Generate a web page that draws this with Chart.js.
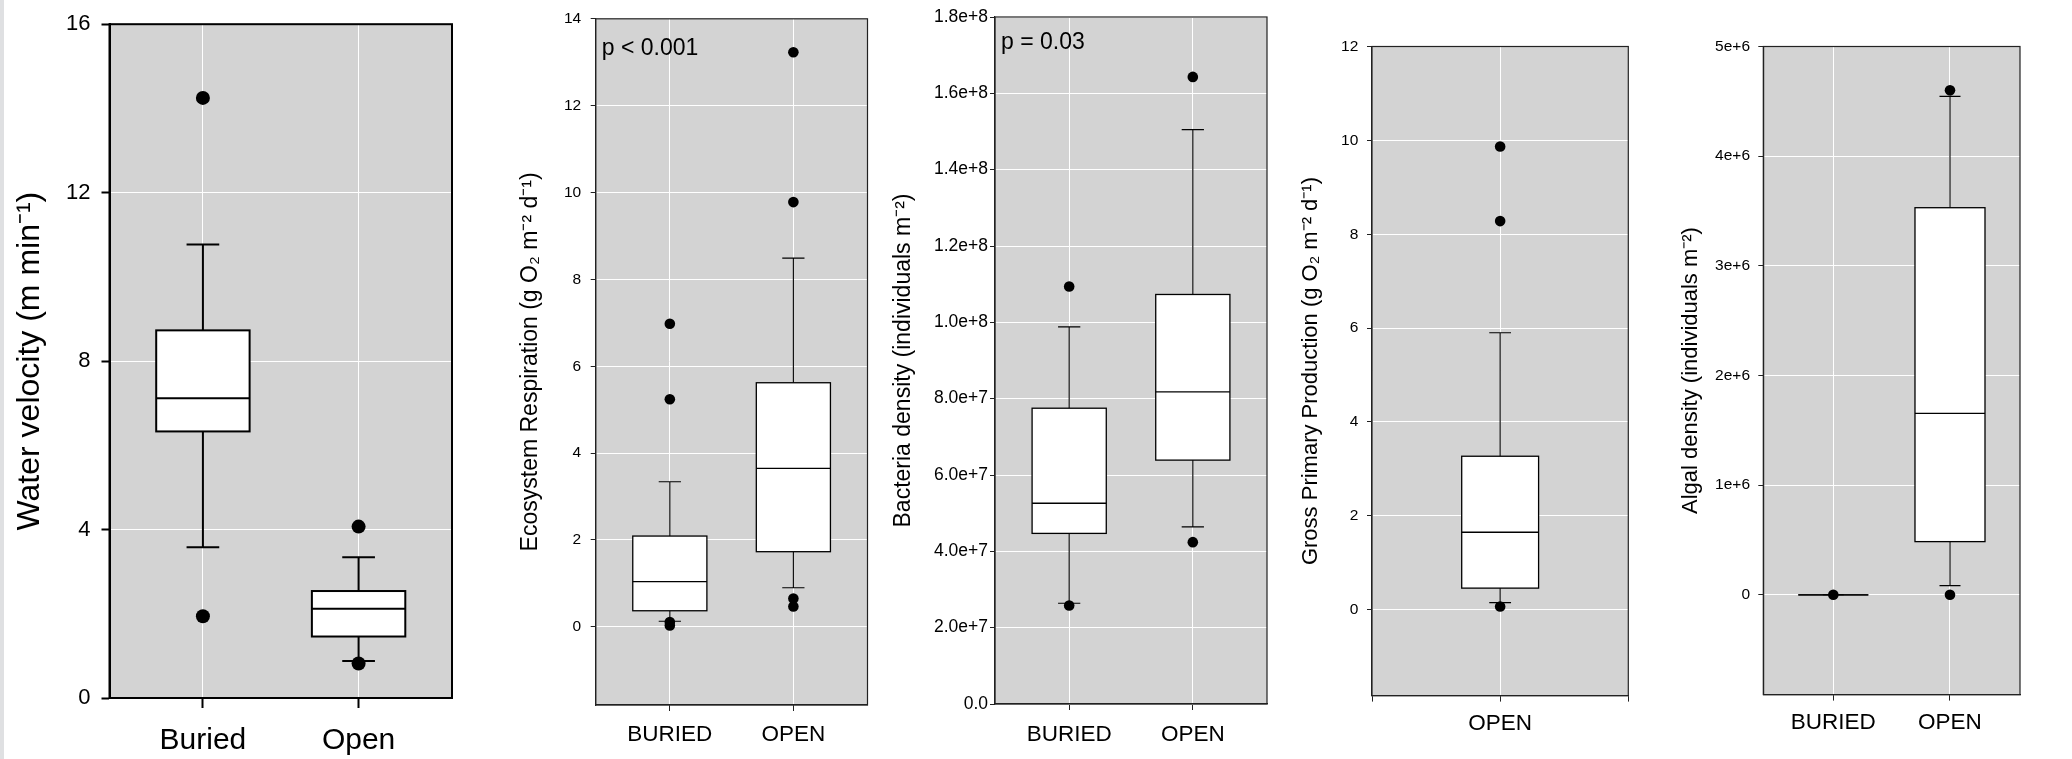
<!DOCTYPE html>
<html>
<head>
<meta charset="utf-8">
<script src="https://cdn.jsdelivr.net/npm/chart.js@4.4.1/dist/chart.umd.min.js"></script>
<style>
  html, body { margin: 0; padding: 0; background: #fff; }
  #page { position: relative; width: 2072px; height: 759px; overflow: hidden; }
  #strip { position: absolute; left: 0; top: 0; width: 4px; height: 759px; background: #dfe0e2; }
  canvas { position: absolute; top: 0; }
</style>
</head>
<body>
<div id="page">
  <div id="strip"></div>
  <canvas id="velocity" width="470" height="759" style="left:0px"></canvas>
  <canvas id="respiration" width="410" height="759" style="left:470px"></canvas>
  <canvas id="bacteria" width="410" height="759" style="left:880px"></canvas>
  <canvas id="gpp" width="370" height="759" style="left:1290px"></canvas>
  <canvas id="algae" width="412" height="759" style="left:1660px"></canvas>
</div>
<script>
// DADOS - velocidade da água
const velCategories = ["Buried", "Open"];
const velTicks = [0, 4, 8, 12, 16];
const velQ1 = [6.33, 1.46];
const velMedian = [7.12, 2.12];
const velQ3 = [8.73, 2.54];
const velLow = [3.58, 0.88];
const velHigh = [10.77, 3.34];
const velOutliers = [[14.25, 1.94], [4.07, 0.82]];

// DADOS - respiração
const erCategories = ["BURIED", "OPEN"];
const erTicks = [0, 2, 4, 6, 8, 10, 12, 14];
const erQ1 = [0.37, 1.73];
const erMedian = [1.04, 3.65];
const erQ3 = [2.09, 5.62];
const erLow = [0.13, 0.9];
const erHigh = [3.34, 8.49];
const erOutliers = [[6.98, 5.24, 0.11, 0.03], [13.23, 9.78, 0.65, 0.47]];
const erNote = "p < 0.001";

// DADOS - bactérias
const bacCategories = ["BURIED", "OPEN"];
const bacTicks = [0, 2e7, 4e7, 6e7, 8e7, 1e8, 1.2e8, 1.4e8, 1.6e8, 1.8e8];
const bacTickLabels = ["0.0", "2.0e+7", "4.0e+7", "6.0e+7", "8.0e+7", "1.0e+8", "1.2e+8", "1.4e+8", "1.6e+8", "1.8e+8"];
const bacQ1 = [4.47e7, 6.39e7];
const bacMedian = [5.26e7, 8.18e7];
const bacQ3 = [7.75e7, 1.073e8];
const bacLow = [2.64e7, 4.64e7];
const bacHigh = [9.88e7, 1.505e8];
const bacOutliers = [[1.094e8, 2.58e7], [1.643e8, 4.24e7]];
const bacNote = "p = 0.03";

// DADOS - produção primária
const gppCategories = ["OPEN"];
const gppTicks = [0, 2, 4, 6, 8, 10, 12];
const gppQ1 = [0.46];
const gppMedian = [1.65];
const gppQ3 = [3.27];
const gppLow = [0.15];
const gppHigh = [5.9];
const gppOutliers = [[9.87, 8.28, 0.07]];

// DADOS - algas
const algCategories = ["BURIED", "OPEN"];
const algTicks = [0, 1e6, 2e6, 3e6, 4e6, 5e6];
const algTickLabels = ["0", "1e+6", "2e+6", "3e+6", "4e+6", "5e+6"];
const algQ1 = [0, 4.85e5];
const algMedian = [0, 1.655e6];
const algQ3 = [0, 3.53e6];
const algLow = [0, 8.4e4];
const algHigh = [0, 4.545e6];
const algOutliers = [[0], [4.6e6, 0]];

Chart.defaults.font.family = "'Liberation Sans', Arial, sans-serif";
Chart.defaults.color = "#000";

// FUNDO, CAIXAS, BIGODES E MOLDURA
function boxPlugin(d, look) {
    return {
        id: "boxes",
        beforeDraw(chart) {
            const { ctx, chartArea: a } = chart;
            ctx.save();
            ctx.fillStyle = "#d3d3d3";
            ctx.fillRect(a.left, a.top, a.width, a.height);
            ctx.restore();
        },
        beforeDatasetsDraw(chart) {
            const { ctx, scales: { x, y } } = chart;
            const half = (x.getPixelForValue(look.boxWidth) - x.getPixelForValue(0)) / 2;
            const cap = (x.getPixelForValue(look.capWidth) - x.getPixelForValue(0)) / 2;
            ctx.save();
            ctx.strokeStyle = "#000";
            d.q1.forEach((v, i) => {
                const cx = x.getPixelForValue(i + 1);
                const top = y.getPixelForValue(d.q3[i]);
                const bottom = y.getPixelForValue(v);
                const hi = y.getPixelForValue(d.high[i]);
                const lo = y.getPixelForValue(d.low[i]);
                const med = y.getPixelForValue(d.median[i]);
                ctx.lineWidth = look.whisker;
                ctx.beginPath();
                ctx.moveTo(cx, top); ctx.lineTo(cx, hi);
                ctx.moveTo(cx - cap, hi); ctx.lineTo(cx + cap, hi);
                ctx.moveTo(cx, bottom); ctx.lineTo(cx, lo);
                ctx.moveTo(cx - cap, lo); ctx.lineTo(cx + cap, lo);
                ctx.stroke();
                ctx.fillStyle = "#fff";
                ctx.fillRect(cx - half, top, half * 2, bottom - top);
                ctx.lineWidth = look.box;
                ctx.strokeRect(cx - half, top, half * 2, bottom - top);
                ctx.beginPath();
                ctx.moveTo(cx - half, med); ctx.lineTo(cx + half, med);
                ctx.stroke();
            });
            ctx.restore();
        },
        afterDraw(chart) {
            const { ctx, chartArea: a } = chart;
            ctx.save();
            ctx.strokeStyle = look.frameColor;
            ctx.lineWidth = look.frame;
            ctx.strokeRect(a.left, a.top, a.width, a.height);
            if (d.note) {
                ctx.fillStyle = "#000";
                ctx.font = "23px 'Liberation Sans', Arial, sans-serif";
                ctx.textBaseline = "alphabetic";
                ctx.fillText(d.note, a.left + 6, a.top + look.noteY);
            }
            ctx.restore();
        },
    };
}

// CONSTRUIR PAINEL
function drawPanel(id, d, look) {
    const points = d.outliers.flatMap((vals, i) => vals.map((v) => ({ x: i + 1, y: v })));
    new Chart(document.getElementById(id), {
        type: "scatter",
        data: {
            datasets: [
                {
                    data: points,
                    pointRadius: look.dot,
                    pointHoverRadius: look.dot,
                    backgroundColor: "#000",
                    borderWidth: 0,
                },
            ],
        },
        options: {
            responsive: false,
            animation: false,
            devicePixelRatio: 1,
            events: [],
            layout: {
                autoPadding: false,
                padding: { top: look.top, right: look.right, bottom: 0, left: 0 },
            },
            plugins: {
                legend: { display: false },
                tooltip: { enabled: false },
            },
            scales: {
                x: {
                    type: "linear",
                    min: look.xMin,
                    max: look.xMax,
                    afterBuildTicks: (axis) => {
                        axis.ticks = look.xTicks.map((v) => ({ value: v }));
                    },
                    afterFit: (axis) => {
                        axis.height = look.xHeight;
                    },
                    grid: {
                        color: "#fff",
                        lineWidth: 1,
                        tickColor: look.frameColor,
                        tickLength: look.xTickLen,
                        tickWidth: look.tickWidth,
                    },
                    border: { color: look.frameColor, width: look.frame },
                    ticks: {
                        callback: (v) => d.categories[v - 1] || "",
                        font: { size: look.xFont },
                        padding: look.xPad,
                        maxRotation: 0,
                        autoSkip: false,
                        color: "#000",
                    },
                },
                y: {
                    type: "linear",
                    min: look.yMin,
                    max: look.yMax,
                    afterBuildTicks: (axis) => {
                        axis.ticks = d.ticks.map((v) => ({ value: v }));
                    },
                    afterFit: (axis) => {
                        axis.width = look.yWidth;
                    },
                    grid: {
                        color: "#fff",
                        lineWidth: 1,
                        tickColor: look.frameColor,
                        tickLength: look.yTickLen,
                        tickWidth: look.tickWidth,
                    },
                    border: { color: look.frameColor, width: look.frame },
                    ticks: {
                        callback: (v, i) => d.tickLabels[i],
                        font: { size: look.yFont },
                        padding: look.yPad,
                        autoSkip: false,
                        color: "#000",
                    },
                    title: {
                        display: true,
                        text: d.title,
                        font: { size: look.titleFont },
                        padding: { top: look.titlePad, bottom: 0 },
                        color: "#000",
                    },
                },
            },
        },
        plugins: [boxPlugin(d, look)],
    });
}

const thin = {
    xMin: 0.4, xMax: 2.6, xTicks: [1, 2],
    boxWidth: 0.6, capWidth: 0.18,
    whisker: 1.1, box: 1.3, frame: 1.2, frameColor: "#222", tickWidth: 1,
    dot: 5.3, xFont: 22.5, yFont: 15.5, titleFont: 22,
    xTickLen: 6, yTickLen: 5, noteY: 36,
};

drawPanel("velocity", {
    categories: velCategories, ticks: velTicks, tickLabels: velTicks.map(String),
    q1: velQ1, median: velMedian, q3: velQ3, low: velLow, high: velHigh, outliers: velOutliers,
    title: "Water velocity (m min\u207B\u00B9)",
}, {
    xMin: 0.4, xMax: 2.6, xTicks: [1, 2], yMin: 0, yMax: 16,
    boxWidth: 0.6, capWidth: 0.21,
    whisker: 2, box: 2, frame: 2, frameColor: "#000", tickWidth: 2,
    dot: 7, xFont: 30, yFont: 22, titleFont: 32, titlePad: 10.8,
    xTickLen: 10, yTickLen: 8, xPad: 15, yPad: 11,
    top: 20, right: 18, yWidth: 109.5, xHeight: 61,
});

drawPanel("respiration", {
    categories: erCategories, ticks: erTicks, tickLabels: erTicks.map(String),
    q1: erQ1, median: erMedian, q3: erQ3, low: erLow, high: erHigh, outliers: erOutliers,
    title: "Ecosystem Respiration (g O\u2082 m\u207B\u00B2 d\u207B\u00B9)", note: erNote,
}, Object.assign({}, thin, {
    yMin: -1.8, yMax: 14, titleFont: 23, titlePad: 47, xPad: 10.5, yPad: 9.5,
    top: 16.5, right: 12.5, yWidth: 125.7, xHeight: 54, noteY: 36.5,
}));

drawPanel("bacteria", {
    categories: bacCategories, ticks: bacTicks, tickLabels: bacTickLabels,
    q1: bacQ1, median: bacMedian, q3: bacQ3, low: bacLow, high: bacHigh, outliers: bacOutliers,
    title: "Bacteria density (individuals m\u207B\u00B2)", note: bacNote,
}, Object.assign({}, thin, {
    yMin: 0, yMax: 1.8e8, yFont: 17.5, titleFont: 23, titlePad: 10.2, xPad: 11, yPad: 2,
    top: 17, right: 23, yWidth: 115, xHeight: 55, noteY: 31.5,
}));

drawPanel("gpp", {
    categories: gppCategories, ticks: gppTicks, tickLabels: gppTicks.map(String),
    q1: gppQ1, median: gppMedian, q3: gppQ3, low: gppLow, high: gppHigh, outliers: gppOutliers,
    title: "Gross Primary Production (g O\u2082 m\u207B\u00B2 d\u207B\u00B9)",
}, Object.assign({}, thin, {
    xMin: 0, xMax: 2, xTicks: [0, 1, 2], capWidth: 0.17,
    yMin: -1.83, yMax: 12, titlePad: 7.8, xPad: 9, yPad: 8.7,
    top: 46.5, right: 31.7, yWidth: 82, xHeight: 63.4,
}));

drawPanel("algae", {
    categories: algCategories, ticks: algTicks, tickLabels: algTickLabels,
    q1: algQ1, median: algMedian, q3: algQ3, low: algLow, high: algHigh, outliers: algOutliers,
    title: "Algal density (individuals m\u207B\u00B2)",
}, Object.assign({}, thin, {
    yMin: -9.1e5, yMax: 5e6, titlePad: 17.8, xPad: 9, yPad: 8.3,
    top: 46.5, right: 52, yWidth: 103.3, xHeight: 64.4,
}));
</script>
</body>
</html>
